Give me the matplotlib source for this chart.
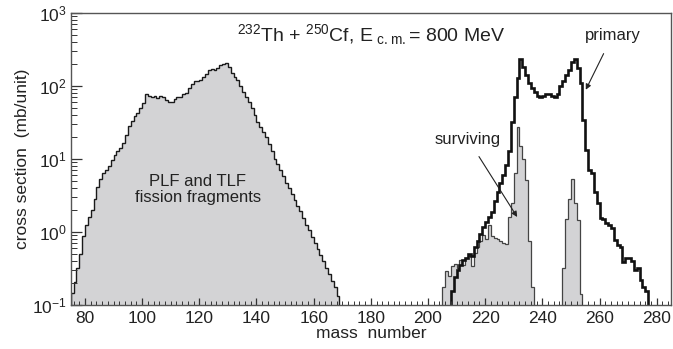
import numpy as np
import matplotlib.pyplot as plt
from matplotlib.ticker import MultipleLocator, LogLocator, NullFormatter

plt.rcParams['font.family'] = ['Liberation Sans', 'DejaVu Sans']
plt.rcParams['mathtext.default'] = 'regular'

# PLF + TLF fission fragments, bins of one mass unit starting at A = 75
plf_start = 75
plf = [0.145, 0.209, 0.316, 0.501, 0.891, 1.26, 1.58, 2.0, 2.82, 4.17,
       5.25, 6.31, 7.08, 7.94, 9.55, 11.2, 12.6, 14.1, 16.6, 21.4,
       28.2, 33.1, 38.0, 42.7, 50.1, 57.5, 75.9, 72.4, 69.2, 72.4,
       67.6, 72.4, 70.8, 63.1, 60.3, 60.3, 66.1, 69.2, 70.8, 75.9,
       79.4, 93.3, 107, 115, 115, 120, 132, 145, 166, 170,
       166, 174, 191, 200, 204, 182, 151, 132, 120, 100,
       83.2, 69.2, 58.9, 50.1, 39.8, 31.6, 27.5, 23.4, 20.0, 15.8,
       12.6, 10.0, 8.51, 6.92, 5.75, 4.68, 3.98, 3.31, 2.75, 2.29,
       1.91, 1.55, 1.26, 1.05, 0.851, 0.708, 0.589, 0.479, 0.398, 0.316,
       0.263, 0.214, 0.174, 0.132]

# primary fragments (thick line), starting at A = 208
prim_start = 208
primary = [0.158, 0.240, 0.302, 0.355, 0.417, 0.437, 0.501, 0.468, 0.631, 0.759,
           0.933, 1.17, 1.35, 1.58, 1.86, 2.63, 3.47, 4.68, 6.03, 8.32,
           12.6, 31.6, 70.8, 126, 229, 178, 141, 110, 93.3, 83.2,
           72.4, 69.2, 72.4, 75.9, 77.6, 72.4, 69.2, 77.6, 97.7, 115,
           141, 166, 214, 229, 174, 110, 33.9, 13.2, 7.08, 6.31,
           3.55, 2.51, 1.55, 1.48, 1.32, 1.26, 1.12, 0.776, 0.661, 0.631,
           0.389, 0.437, 0.437, 0.398, 0.302, 0.316, 0.219, 0.178, 0.158]

# surviving fragments (filled), two groups
surv1_start = 205
surv1 = [0.178, 0.295, 0.251, 0.339, 0.363, 0.316, 0.417, 0.355, 0.437, 0.468,
         0.339, 0.513, 0.631, 0.741, 0.912, 0.794, 1.26, 0.871, 0.832, 0.794,
         0.759, 0.708, 0.676, 1.62, 2.51, 6.46, 27.5, 14.8, 10.0, 5.13,
         0.759, 0.178]
surv2_start = 247
surv2 = [0.316, 1.51, 2.82, 5.25, 2.51, 1.45, 0.141]

fill_col = '#d3d3d5'
base = 1e-3

fig = plt.figure(figsize=(6.73, 3.49), dpi=100)
ax = fig.add_axes([0.105, 0.126, 0.892, 0.838])
ax.set_yscale('log')

ax.stairs(plf, plf_start + np.arange(len(plf) + 1), baseline=base, fill=True,
          facecolor=fill_col, edgecolor='none')
ax.stairs(plf, plf_start + np.arange(len(plf) + 1), baseline=base,
          color='#1a1a1a', lw=1.0)

for vals, start in [(surv1, surv1_start), (surv2, surv2_start)]:
    edges = start + np.arange(len(vals) + 1)
    ax.stairs(vals, edges, baseline=base, fill=True, facecolor=fill_col, edgecolor='none')
    ax.stairs(vals, edges, baseline=base, color='#444444', lw=0.9)

ax.stairs(primary, prim_start + np.arange(len(primary) + 1), baseline=base,
          color='#111111', lw=1.9)

ax.set_xlim(75, 285)
ax.set_ylim(0.1, 1000)

ax.xaxis.set_major_locator(MultipleLocator(20))
ax.xaxis.set_minor_locator(MultipleLocator(2))
ax.yaxis.set_minor_locator(LogLocator(base=10, subs=np.arange(2, 10)))
ax.yaxis.set_minor_formatter(NullFormatter())
ax.tick_params(which='both', direction='in', top=False, right=False,
               colors='#333333', labelcolor='#222222', labelsize=12.5)
ax.tick_params(axis='y', which='major', length=8, width=0.9, pad=3)
ax.tick_params(axis='y', which='minor', length=4, width=0.7)
ax.tick_params(axis='x', which='major', length=5, width=0.9, pad=4)
ax.tick_params(axis='x', which='minor', length=3, width=0.7)
for s in ax.spines.values():
    s.set_color('#555555')
    s.set_linewidth(1.0)

ax.set_xlabel('mass  number', fontsize=12.5, color='#222222', labelpad=0)
ax.set_ylabel('cross section  (mb/unit)', fontsize=12.5, color='#222222', labelpad=1)

ax.text(0.5, 0.925, '$^{232}$Th + $^{250}$Cf, E$_{\\ c.m.}$= 800 MeV',
        transform=ax.transAxes, ha='center', va='center', fontsize=14, color='#222222')
ax.text(119.5, 3.8, 'PLF and TLF\nfission fragments', ha='center', va='center',
        fontsize=12, color='#222222', linespacing=1.05)
ax.annotate('primary', xy=(255.2, 88), xytext=(264.5, 480), ha='center', va='center',
            fontsize=12, color='#222222',
            arrowprops=dict(arrowstyle='-|>', color='#222222', lw=0.8,
                            mutation_scale=8, shrinkA=6, shrinkB=0))
ax.annotate('surviving', xy=(231.2, 1.6), xytext=(214, 18.5), ha='center', va='center',
            fontsize=12, color='#222222',
            arrowprops=dict(arrowstyle='-|>', color='#222222', lw=0.8,
                            mutation_scale=8, shrinkA=6, shrinkB=0))

fig.savefig('out.png', dpi=100)
